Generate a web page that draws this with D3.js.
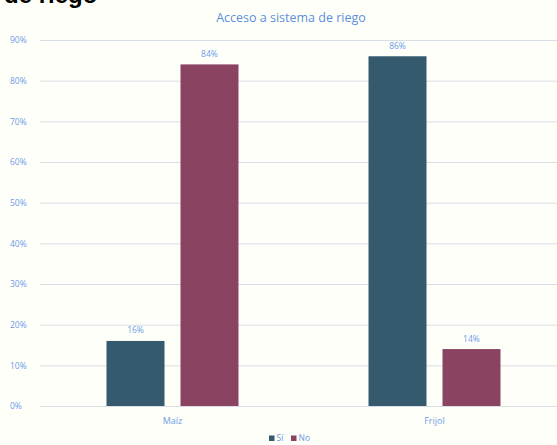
<!DOCTYPE html>
<html><head><meta charset="utf-8">
<script src="https://cdn.jsdelivr.net/npm/d3@7"></script>
<style>html,body{margin:0;padding:0;background:#fffff9;overflow:hidden}</style>
</head><body>
<svg id="c" width="557" height="445"></svg>
<script>
const categories = ["Maíz", "Frijol"];
const seriesNames = ["Sí", "No"];
const siValues = [16, 86];
const noValues = [84, 14];
const yTicks = [0, 10, 20, 30, 40, 50, 60, 70, 80, 90];
const colors = ["#355a6e", "#8a4462"];
const title = "Acceso a sistema de riego";

const svg = d3.select("#c");
const W = 557, H = 445;
svg.append("rect").attr("width", W).attr("height", H).attr("fill", "#fffff9");

// cropped heading above the chart (cut off by the top edge, as in the reference)
svg.append("text").attr("x", 4).attr("y", 2.5)
  .attr("font-family", "Liberation Sans, Arial, sans-serif")
  .attr("font-weight", "bold").attr("font-size", 24).attr("fill", "#000")
  .text("de riego");

const y = d3.scaleLinear().domain([0, 90]).range([406, 40]);
const x0 = d3.scaleBand().domain(categories).range([41.5, 565.5]).padding(0);
const x1 = d3.scaleBand().domain(seriesNames).range([-66, 66]).paddingInner(0.2162).paddingOuter(0);
const font = "Open Sans, Lato, sans-serif";
const blue = "#6b9be6";

// grid + y labels
const yAxis = d3.axisLeft(y).tickValues(yTicks).tickSize(-(W - 40)).tickFormat(d => d + "%");
const g = svg.append("g").attr("transform", "translate(40,0)").call(yAxis);
g.select(".domain").remove();
g.selectAll(".tick line").attr("stroke", "#d8dee6").attr("stroke-width", 1);
g.selectAll(".tick text").attr("x", -30).attr("text-anchor", "start")
  .attr("fill", blue).attr("font-family", font).attr("font-size", 8.5);

svg.append("text").attr("x", 291).attr("y", 22).attr("text-anchor", "middle")
  .attr("font-family", font).attr("font-size", 12.5).attr("fill", "#5b8ee0").text(title);

const data = categories.map((c, i) => ({ cat: c, vals: [siValues[i], noValues[i]] }));
const grp = svg.selectAll("g.cat").data(data).enter().append("g").attr("class", "cat")
  .attr("transform", d => `translate(${x0(d.cat) + x0.bandwidth() / 2},0)`);
grp.selectAll("rect").data(d => d.vals.map((v, j) => ({ s: seriesNames[j], v, j })))
  .enter().append("rect")
  .attr("x", d => x1(d.s)).attr("width", x1.bandwidth())
  .attr("y", d => y(d.v)).attr("height", d => y(0) - y(d.v))
  .attr("fill", d => colors[d.j]);
grp.selectAll("text.val").data(d => d.vals.map((v, j) => ({ s: seriesNames[j], v, j })))
  .enter().append("text").attr("class", "val")
  .attr("x", d => x1(d.s) + x1.bandwidth() / 2).attr("y", d => y(d.v) - 7.5)
  .attr("text-anchor", "middle").attr("font-family", font).attr("font-size", 8.5)
  .attr("fill", blue).text(d => d.v + "%");

// x labels
const xAxis = d3.axisBottom(x0).tickSize(0).tickPadding(0);
const gx = svg.append("g").attr("transform", "translate(0,406)").call(xAxis);
gx.select(".domain").remove();
gx.selectAll(".tick text").attr("y", 18).attr("dy", 0)
  .attr("fill", blue).attr("font-family", font).attr("font-size", 9);

// legend
const leg = svg.append("g").attr("transform", "translate(269,441)");
const lx = [0, 22];
seriesNames.forEach((s, i) => {
  leg.append("rect").attr("x", lx[i]).attr("y", -5.5).attr("width", 5.5).attr("height", 5.5).attr("fill", colors[i]);
  leg.append("text").attr("x", lx[i] + 7.5).attr("y", 0).attr("font-family", font)
    .attr("font-size", 8.5).attr("fill", blue).text(s);
});
</script>
</body></html>
